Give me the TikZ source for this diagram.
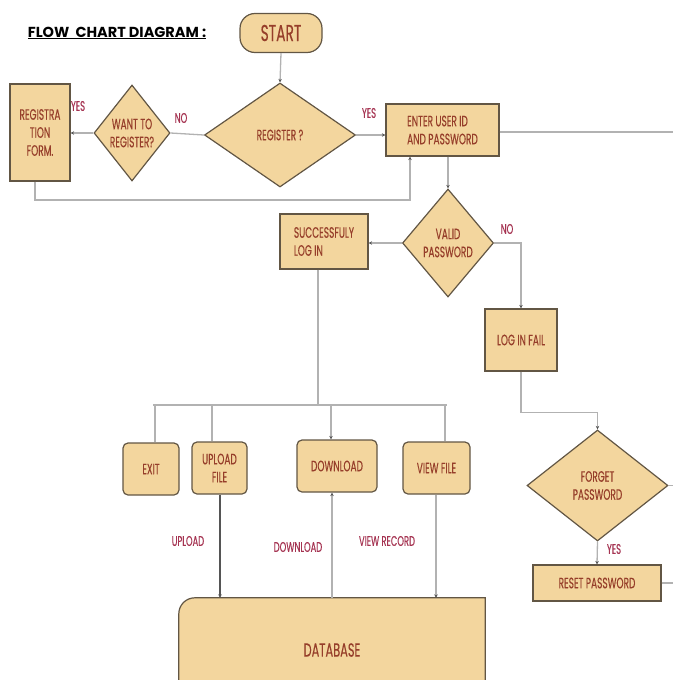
\documentclass[tikz,border=0pt]{standalone}
\usepackage{fontspec}
\setmainfont{Poppins}[FakeStretch=0.6, FakeBold=0.25]
\newfontfamily\titlefont{Poppins}
\usetikzlibrary{arrows.meta,shapes.geometric}
\definecolor{fillc}{RGB}{243,214,158}
\definecolor{bordc}{RGB}{98,86,68}
\definecolor{textc}{RGB}{150,62,42}
\definecolor{labc}{RGB}{165,52,82}
\definecolor{linec}{RGB}{178,178,178}
\definecolor{darkline}{RGB}{85,85,85}
\tikzset{
  boxst/.style={draw=bordc, fill=fillc, line width=1.2pt, inner sep=0pt, font=\fontsize{15}{18}\selectfont, text=textc},
  sqbox/.style={boxst, rectangle},
  rbox/.style={boxst, rectangle, rounded corners=5pt},
  dia/.style={boxst, diamond},
  txt/.style={inner sep=0pt, font=\fontsize{15}{18}\selectfont, text=textc, align=center},
  lab/.style={inner sep=0pt, font=\fontsize{14}{16}\selectfont, text=labc},
  conn/.style={draw=linec, line width=1.3pt},
  tip/.style={-{Stealth[length=3.5pt,width=3.5pt,color=darkline]}}
}
\begin{document}
\begin{tikzpicture}[x=1pt,y=-1pt]
\useasboundingbox (0,0) rectangle (673,680);
% title
\node[inner sep=0pt, font=\titlefont\bfseries\fontsize{14.5}{17}\selectfont] (title) at (117,33) {\underline{FLOW\ \ CHART DIAGRAM :}};
% nodes
\node[boxst, rectangle, rounded corners=15pt, minimum width=82pt, minimum height=39pt, font=\fontsize{23}{26}\selectfont] (start) at (281,33) {START};
\node[dia, minimum width=151pt, minimum height=104pt] (reg) at (280,135) {};
\node[txt] (regT) at (reg.center) {REGISTER ?};
\node[dia, minimum width=76pt, minimum height=96pt] (want) at (132,133) {};
\node[txt] (wantT) at (want.center) {WANT TO\\REGISTER?};
\node[sqbox, minimum width=60pt, minimum height=97pt, align=center] (form) at (40,132.5) {REGISTRA\\TION\\FORM.};
\node[sqbox, minimum width=113pt, minimum height=52pt, align=left] (enter) at (442.5,130) {ENTER USER ID\\AND PASSWORD};
\node[dia, minimum width=91pt, minimum height=108pt] (valid) at (448,243) {};
\node[txt] (validT) at (valid.center) {VALID\\PASSWORD};
\node[sqbox, minimum width=88pt, minimum height=55pt, align=left] (succ) at (324,241.5) {SUCCESSFULY\\LOG IN};
\node[sqbox, minimum width=72pt, minimum height=62pt] (fail) at (521,340) {LOG IN FAIL};
\node[dia, minimum width=141pt, minimum height=111pt] (forget) at (597.5,485.5) {};
\node[txt] (forgetT) at (forget.center) {FORGET\\PASSWORD};
\node[sqbox, minimum width=128pt, minimum height=36pt] (reset) at (597,583) {RESET PASSWORD};
\node[rbox, minimum width=56pt, minimum height=52pt] (exit) at (151,469) {EXIT};
\node[rbox, minimum width=55pt, minimum height=52pt, align=center] (upload) at (219.5,468) {UPLOAD\\FILE};
\node[rbox, minimum width=80pt, minimum height=52pt] (download) at (337,466) {DOWNLOAD};
\node[rbox, minimum width=67pt, minimum height=52pt] (view) at (436.5,468) {VIEW FILE};
% database: rounded only at top-left
\node[minimum width=306pt, minimum height=102pt, inner sep=0pt] (db) at (332,649) {};
\filldraw[draw=bordc, fill=fillc, line width=1.2pt] (db.south west) -- ([yshift=-16pt]db.north west) arc[start angle=180, end angle=90, radius=16pt] -- (db.north east) -- (db.south east);
\node[txt, font=\fontsize{19}{22}\selectfont] (dbT) at (332,650) {DATABASE};
% connectors
\draw[conn, tip] (start.south) -- (reg.north);
\draw[conn] (reg.west) -- (want.east);
\draw[conn, tip] (want.west) -- (want.west -| form.east);
\draw[conn, tip] ([xshift=-5pt]form.south) |- (410,200) coordinate (loopc) -- (enter.south -| loopc);
\draw[conn, tip] (reg.east) -- (reg.east -| enter.west);
\coordinate (rightA) at (673,132);
\draw[conn] (enter.east |- rightA) -- (rightA);
\draw[conn, tip] (enter.south -| valid.north) -- (valid.north);
\draw[conn, tip] (valid.west) -- (valid.west -| succ.east);
\draw[conn, tip] (valid.east) -| (fail.north);
\draw[conn, tip] (fail.south) -- ++(0,41) -| (forget.north);
\coordinate (rightB) at (673,485.5);
\draw[conn] (forget.east) -- (rightB);
\draw[conn, tip] (forget.south) -- (reset.north);
\coordinate (rightC) at (673,583);
\draw[conn] (reset.east) -- (rightC);
\coordinate (hub) at (318,405);
\draw[conn] ([xshift=-6pt]succ.south) -- (hub);
\draw[conn] (153,405) -- (447,405);
\draw[conn] (155,405) -- (exit.north -| 155,0);
\draw[conn] (212,405) -- (upload.north -| 212,0);
\draw[conn, tip] (331,405) -- (download.north -| 331,0);
\draw[conn] (445,405) -- (view.north -| 445,0);
\draw[draw=darkline, line width=1.3pt, tip] (upload.south -| 220,0) -- (db.north -| 220,0);
\draw[conn, tip] (db.north -| 332,0) -- (download.south -| 332,0);
\draw[conn, tip] (view.south -| 436,0) -- (db.north -| 436,0);
% labels
\node[lab] (lYes1) at (78,106) {YES};
\node[lab] (lNo1) at (181,118) {NO};
\node[lab] (lYes2) at (369,113) {YES};
\node[lab] (lNo2) at (507,229) {NO};
\node[lab] (lYes3) at (614,549) {YES};
\node[lab] (lUp) at (188,541) {UPLOAD};
\node[lab] (lDown) at (298,547) {DOWNLOAD};
\node[lab] (lView) at (387,541) {VIEW RECORD};
\end{tikzpicture}
\end{document}
